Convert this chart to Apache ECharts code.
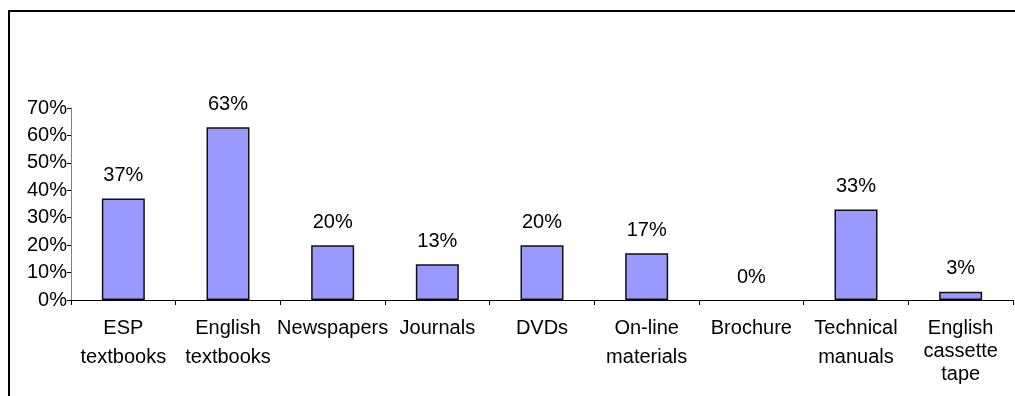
<!DOCTYPE html>
<html>
<head>
<meta charset="utf-8">
<script src="https://cdn.jsdelivr.net/npm/echarts@6/dist/echarts.min.js"></script>
<style>
  html, body { margin: 0; padding: 0; background: #fff; }
  #chart { width: 1015px; height: 396px; }
</style>
</head>
<body>
<div id="chart"></div>
<script>
// Learning materials used, share of respondents (%)
const categories = [
  'ESP\ntextbooks',
  'English\ntextbooks',
  'Newspapers',
  'Journals',
  'DVDs',
  'On-line\nmaterials',
  'Brochure',
  'Technical\nmanuals',
  'English\ncassette\ntape'
];
const shares = [37, 63, 20, 13, 20, 17, 0, 33, 3];
const yTicks = { min: 0, max: 70, interval: 10 };

const FONT = '"Liberation Sans", Arial, sans-serif';

const chart = echarts.init(document.getElementById('chart'));
chart.setOption({
  animation: false,
  backgroundColor: '#fff',
  graphic: [{
    type: 'rect',
    shape: { x: 9, y: 11, width: 1200, height: 600 },
    style: { fill: 'none', stroke: '#000', lineWidth: 2 },
    silent: true
  }],
  grid: { left: 71, right: 2, top: 108, bottom: 96, containLabel: false },
  xAxis: {
    type: 'category',
    data: categories.map((c, i) => i === categories.length - 1
      ? { value: c, textStyle: { lineHeight: 23, padding: [3, 0, 0, 0] } }
      : c),
    axisLine: { lineStyle: { color: '#000', width: 1 } },
    axisTick: { show: true, length: 5, alignWithLabel: false, lineStyle: { color: '#000' } },
    axisLabel: {
      interval: 0, color: '#000', fontFamily: FONT, fontSize: 20,
      lineHeight: 29, margin: 14
    },
    splitLine: { show: false }
  },
  yAxis: {
    type: 'value',
    min: yTicks.min, max: yTicks.max, interval: yTicks.interval,
    axisLine: { show: true, lineStyle: { color: '#808080', width: 1 } },
    axisTick: { show: true, length: 4, lineStyle: { color: '#000' } },
    axisLabel: {
      formatter: '{value}%', color: '#000', fontFamily: FONT, fontSize: 20, margin: 4
    },
    splitLine: { show: false }
  },
  series: [{
    type: 'bar',
    // a zero share has no visible bar, so its outline is dropped too
    data: shares.map(v => v === 0 ? { value: v, itemStyle: { borderWidth: 0 } } : v),
    barWidth: 43,
    itemStyle: { color: '#9999FF', borderColor: '#111', borderWidth: 1.5 },
    label: {
      show: true, position: 'top', distance: 13,
      formatter: '{c}%', color: '#000', fontFamily: FONT, fontSize: 20
    }
  }]
});
</script>
</body>
</html>
